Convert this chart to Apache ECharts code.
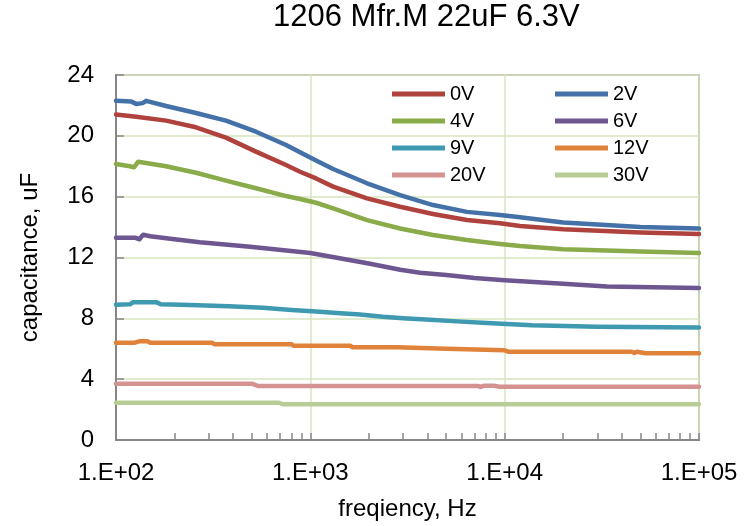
<!DOCTYPE html>
<html>
<head>
<meta charset="utf-8">
<script src="https://cdn.jsdelivr.net/npm/echarts@6.0.0/dist/echarts.min.js"></script>
<style>
html,body{margin:0;padding:0;background:#fff;}
#chart{width:748px;height:526px;}
</style>
</head>
<body>
<div id="chart"></div>
<script>
// ---- data ----
var titleText = '1206 Mfr.M 22uF 6.3V';
var seriesNames = ['0V','2V','4V','6V','9V','12V','20V','30V'];
var legendCol1 = ['0V','4V','9V','20V'];
var legendCol2 = ['2V','6V','12V','30V'];

var f0V = [100,127,181,258,368,525,750,885,1070,1310,1958,2897,4277,6394,9460,12000,20000,50000,100000];
var c0V = [21.4,21.26,21.0,20.56,19.88,18.96,18.08,17.64,17.2,16.66,15.89,15.34,14.86,14.46,14.25,14.07,13.85,13.65,13.55];

var f2V = [100,120,127,137,143,181,258,368,525,750,885,1070,1310,1958,2897,4277,6394,9460,12000,20000,50000,100000];
var c2V = [22.3,22.25,22.1,22.15,22.3,21.96,21.5,21.0,20.27,19.4,18.92,18.38,17.82,16.88,16.1,15.45,15.0,14.8,14.64,14.3,14.0,13.9];

var f4V = [100,118,124,130,181,258,368,525,750,885,1070,1310,1958,2897,4277,6394,9460,12000,20000,50000,100000];
var c4V = [18.15,18.0,17.93,18.3,18.0,17.57,17.05,16.55,16.04,15.85,15.6,15.23,14.46,13.91,13.48,13.15,12.89,12.75,12.55,12.4,12.3];

var f6V = [100,125,132,138,150,200,270,490,1000,2000,2900,3670,5000,7000,10000,20000,33600,100000];
var c6V = [13.3,13.3,13.2,13.5,13.4,13.2,13.0,12.7,12.3,11.6,11.2,11.0,10.85,10.65,10.5,10.27,10.1,10.0];

var f9V = [100,118,122,162,170,240,380,570,800,1070,1370,1800,2360,3000,4130,5690,8110,13830,29900,100000];
var c9V = [8.9,8.92,9.05,9.05,8.92,8.88,8.8,8.7,8.55,8.45,8.35,8.25,8.1,8.0,7.9,7.8,7.7,7.55,7.45,7.4];

var f12V = [100,125,133,145,150,312,320,800,820,1600,1650,2800,2850,5000,5100,10000,10500,45000,46500,48000,53000,100000];
var c12V = [6.4,6.4,6.5,6.5,6.4,6.4,6.3,6.3,6.2,6.2,6.1,6.1,6.0,6.0,5.9,5.9,5.8,5.8,5.72,5.8,5.7,5.7];

var f20V = [100,500,540,7300,7500,7800,8800,9400,100000];
var c20V = [3.7,3.7,3.55,3.55,3.48,3.57,3.57,3.5,3.5];

var f30V = [100,690,720,100000];
var c30V = [2.45,2.45,2.35,2.35];

var xTickExponents = [2,3,4,5];
var minorMultipliers = [2,3,4,5,6,7,8,9];
var yMin = 0, yMax = 24, yStep = 4;

var colors = ['#B0423E','#4472A8','#8AAB4A','#6E5791','#3F99B1','#E0823A','#D49391','#B7CD95'];

// ---- build ----
function zip(f, c){ var out=[]; for(var i=0;i<f.length;i++) out.push([f[i], c[i]]); return out; }
var allData = [zip(f0V,c0V),zip(f2V,c2V),zip(f4V,c4V),zip(f6V,c6V),zip(f9V,c9V),zip(f12V,c12V),zip(f20V,c20V),zip(f30V,c30V)];

var minorTicks = [];
for (var d = xTickExponents[0]; d < xTickExponents[xTickExponents.length-1]; d++) {
  minorTicks.push(d);
  minorMultipliers.forEach(function(m){ minorTicks.push(d + Math.log10(m)); });
}
minorTicks.push(xTickExponents[xTickExponents.length-1]);

var gridColor = '#D7E4BD';
var axisColor = '#868686';
var font = 'Liberation Sans, Arial, sans-serif';

var series = seriesNames.map(function(n, i){
  return {
    name: n, type: 'line', xAxisIndex: 0, yAxisIndex: 0,
    data: allData[i], showSymbol: false, symbol: 'none', smooth: false,
    lineStyle: { width: 4.5, color: colors[i], join: 'round', cap: 'round' }, itemStyle: { color: colors[i] },
    z: 10 - i
  };
});

var legendCommon = {
  orient: 'vertical', top: 84, padding: 0, itemGap: 7,
  icon: 'rect', itemWidth: 53, itemHeight: 5,
  textStyle: { fontSize: 20, color: '#000', fontFamily: font, lineHeight: 20 }
};

var chart = echarts.init(document.getElementById('chart'), null, {renderer: 'canvas'});
chart.setOption({
  animation: false,
  backgroundColor: '#fff',
  title: {
    text: titleText, left: 273, top: 2, padding: 0,
    textStyle: { fontSize: 31, fontWeight: 'normal', color: '#000', fontFamily: font }
  },
  legend: [
    Object.assign({}, legendCommon, { left: 392, data: legendCol1 }),
    Object.assign({}, legendCommon, { left: 555, data: legendCol2 })
  ],
  grid: { left: 116, right: 49, top: 75, bottom: 86, show: true, borderColor: axisColor, borderWidth: 1.5, backgroundColor: 'transparent' },
  xAxis: [{
    type: 'log', logBase: 10, min: Math.pow(10, xTickExponents[0]), max: Math.pow(10, xTickExponents[xTickExponents.length-1]),
    name: 'freqiency, Hz', nameLocation: 'middle', nameGap: 57,
    nameTextStyle: { fontSize: 24, color: '#000', fontFamily: font },
    axisLine: { show: true, lineStyle: { color: axisColor, width: 2 } },
    axisTick: { show: false },
    splitLine: { show: true, lineStyle: { color: gridColor, width: 1.5 } },
    minorTick: { show: false }, minorSplitLine: { show: false },
    axisLabel: { fontSize: 24, color: '#000', fontFamily: font, margin: 21,
      formatter: function(v){ var e = Math.round(Math.log10(v)); return '1.E+' + (e < 10 ? '0' + e : e); } }
  }, {
    type: 'value', min: xTickExponents[0], max: xTickExponents[xTickExponents.length-1],
    position: 'bottom', offset: 0,
    axisLine: { show: false }, axisLabel: { show: false }, splitLine: { show: false },
    axisTick: { show: true, inside: true, length: 7, customValues: minorTicks, lineStyle: { color: axisColor, width: 1.5 } }
  }],
  yAxis: {
    type: 'value', min: yMin, max: yMax, interval: yStep,
    name: 'capacitance, uF', nameLocation: 'middle', nameGap: 74,
    nameTextStyle: { fontSize: 24, color: '#000', fontFamily: font },
    axisLine: { show: true, lineStyle: { color: axisColor, width: 2 } },
    axisTick: { show: true, inside: true, length: 8, lineStyle: { color: axisColor, width: 1.5 } },
    splitLine: { show: true, lineStyle: { color: gridColor, width: 1.5 } },
    axisLabel: { fontSize: 24, color: '#000', fontFamily: font, margin: 22 }
  },
  series: series
});
</script>
</body>
</html>
